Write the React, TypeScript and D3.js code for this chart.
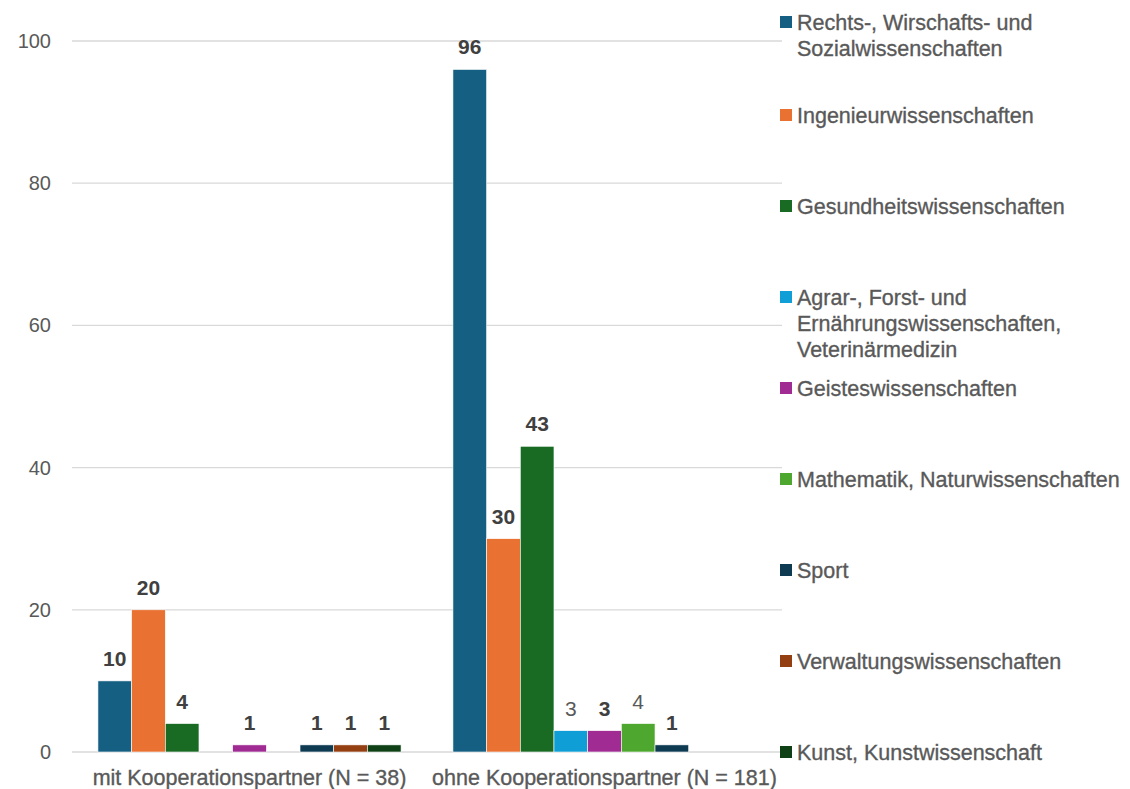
import React from "react";
import * as d3 from "d3";

const groups = ["mit Kooperationspartner (N = 38)", "ohne Kooperationspartner (N = 181)"];
const seriesNames = [
  "Rechts-, Wirschafts- und Sozialwissenschaften",
  "Ingenieurwissenschaften",
  "Gesundheitswissenschaften",
  "Agrar-, Forst- und Ernährungswissenschaften, Veterinärmedizin",
  "Geisteswissenschaften",
  "Mathematik, Naturwissenschaften",
  "Sport",
  "Verwaltungswissenschaften",
  "Kunst, Kunstwissenschaft",
];
const legendLines = [
  ["Rechts-, Wirschafts- und", "Sozialwissenschaften"],
  ["Ingenieurwissenschaften"],
  ["Gesundheitswissenschaften"],
  ["Agrar-, Forst- und", "Ernährungswissenschaften,", "Veterinärmedizin"],
  ["Geisteswissenschaften"],
  ["Mathematik, Naturwissenschaften"],
  ["Sport"],
  ["Verwaltungswissenschaften"],
  ["Kunst, Kunstwissenschaft"],
];
const colors = ["#156082", "#E97132", "#196B24", "#0F9ED5", "#A02B93", "#4EA72E", "#0E3A52", "#943F12", "#0F4016"];
const boldLabels = [true, true, true, false, true, false, true, true, true];
const mitValues = [10, 20, 4, 0, 1, 0, 1, 1, 1];
const ohneValues = [96, 30, 43, 3, 3, 4, 1, 0, 0];
const yTicks = [0, 20, 40, 60, 80, 100];

const values = [mitValues, ohneValues];

const W = 1130, H = 789;
const left = 72, right = 782, top = 41, bottom = 752;
const FONT = "'Liberation Sans', Arial, sans-serif";
const TEXT = "#595959";

export default function App() {
  const y = d3.scaleLinear().domain([0, 100]).range([bottom, top]);
  const x0 = d3.scaleBand<string>().domain(groups).range([left, right]).padding(0);
  const x1 = d3.scaleBand<number>()
    .domain(d3.range(seriesNames.length))
    .range([0, x0.bandwidth()])
    .paddingInner(0)
    .paddingOuter(0.77);

  return (
    <svg width={W} height={H} style={{ position: "absolute", left: 0, top: 0, fontFamily: FONT }}>
      <rect width={W} height={H} fill="#fff" />
      {yTicks.map((t) => (
        <g key={t}>
          <line x1={left} x2={right} y1={y(t)} y2={y(t)} stroke="#d9d9d9" strokeWidth={1.3} />
          <text x={51} y={y(t)} dy="0.35em" textAnchor="end" fontSize={20} fill={TEXT}>{t}</text>
        </g>
      ))}
      {groups.map((g, gi) => (
        <g key={g} transform={`translate(${x0(g)},0)`}>
          {values[gi].map((v, si) =>
            v > 0 ? (
              <g key={si}>
                <rect x={x1(si)} y={y(v)} width={x1.bandwidth()} height={bottom - y(v)} fill={colors[si]} stroke="#fff" strokeWidth={0.6} />
                <text x={(x1(si) as number) + x1.bandwidth() / 2} y={y(v) - 15} textAnchor="middle" fontSize={21}
                  fontWeight={boldLabels[si] ? "bold" : "normal"} fill={boldLabels[si] ? "#404040" : TEXT}>{v}</text>
              </g>
            ) : null
          )}
          <text x={x0.bandwidth() / 2} y={785} textAnchor="middle" fontSize={21.5} fill={TEXT}
            stroke={TEXT} strokeWidth={0.35}>{g}</text>
        </g>
      ))}
      {legendLines.map((lines, i) => {
        const ly = [22, 115, 206, 297, 388, 479, 570, 661, 752][i];
        return (
          <g key={i}>
            <rect x={780} y={ly - 6} width={12} height={12} fill={colors[i]} />
            {lines.map((l, li) => (
              <text key={li} x={797} y={ly + li * 26} dy="0.35em" fontSize={21.5} fill={TEXT}
                stroke={TEXT} strokeWidth={0.35}>{l}</text>
            ))}
          </g>
        );
      })}
    </svg>
  );
}
